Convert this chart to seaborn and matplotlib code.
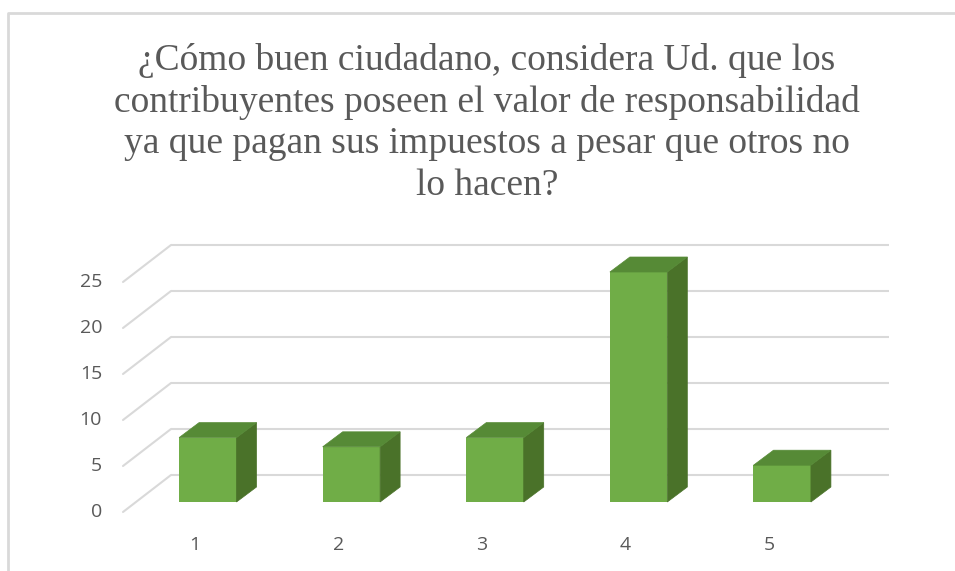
import numpy as np
import pandas as pd
import matplotlib
matplotlib.use("Agg")
import matplotlib.pyplot as plt
import matplotlib.transforms as mtransforms
from matplotlib.patches import Polygon
from matplotlib.lines import Line2D
import seaborn as sns

# data
categories = ["1", "2", "3", "4", "5"]
counts = [7, 6, 7, 25, 4]
y_ticks = [0, 5, 10, 15, 20, 25]
title = ("¿Cómo buen ciudadano, considera Ud. que los\n"
         "contribuyentes poseen el valor de responsabilidad\n"
         "ya que pagan sus impuestos a pesar que otros no\n"
         "lo hacen?")

FRONT = "#70AD47"
TOP = "#568A36"
SIDE = "#4A7229"
GRID = "#D9D9D9"
TEXT = "#595959"

sns.set_theme(style="white")
plt.rcParams['font.family'] = ['Open Sans', 'DejaVu Sans']

W, H, DPI = 955, 571, 100
fig = plt.figure(figsize=(W / DPI, H / DPI), dpi=DPI)

# axes = the plane of the bars' front faces (pixel geometry)
left_px, right_px, base_px, px_per_unit = 136, 854, 502, 9.2
ymax = 28
top_px = base_px - ymax * px_per_unit
ax = fig.add_axes([left_px / W, (H - base_px) / H,
                   (right_px - left_px) / W, (base_px - top_px) / H])

df = pd.DataFrame({"cat": categories, "n": counts})
sns.barplot(data=df, x="cat", y="n", color=FRONT, saturation=1,
            width=0.4, ax=ax, zorder=3, linewidth=0)
ax.set_xlim(-0.5, len(categories) - 0.5)
ax.set_ylim(0, ymax)
ax.axis("off")

# depth offsets (pixels): floor front edge, back wall, bar depth
front = (-13, -10)
back = (35, 27)
bar_depth = (20, 15)

def off(dx, dy):
    return mtransforms.offset_copy(ax.transData, fig=fig, x=dx, y=dy, units="dots")

# back wall gridlines
ax.hlines(y_ticks, -0.5, len(categories) - 0.5, color=GRID, lw=1.5,
          transform=off(*back), zorder=1, clip_on=False)

# left wall diagonals + value labels
for v in y_ticks:
    p0 = ax.transData.transform((-0.5, v))
    xs = [p0[0] + front[0], p0[0] + back[0]]
    ys = [p0[1] + front[1], p0[1] + back[1]]
    fig.add_artist(Line2D(xs, ys, color=GRID, lw=1.5,
                          transform=mtransforms.IdentityTransform(), zorder=1))
    ax.text(-0.5, v, str(v), transform=off(front[0] - 21, front[1]),
            ha="right", va="center", fontsize=14, color=TEXT)

# category labels on the floor front edge
for i, c in enumerate(categories):
    ax.text(i, 0, c, transform=off(front[0], front[1] - 33),
            ha="center", va="center", fontsize=14, color=TEXT)

# 3D extrusion of each bar (side and top faces)
fig.canvas.draw()
dx, dy = bar_depth
for patch in ax.patches[:len(categories)]:
    x0, y0 = patch.get_x(), patch.get_y()
    x1, y1 = x0 + patch.get_width(), y0 + patch.get_height()
    br = ax.transData.transform((x1, y0))
    tl, tr = ax.transData.transform((x0, y1)), ax.transData.transform((x1, y1))
    side = [br, tr, tr + (dx, dy), br + (dx, dy)]
    topf = [tl, tr, tr + (dx, dy), tl + (dx, dy)]
    for pts, col in [(side, SIDE), (topf, TOP)]:
        fig.add_artist(Polygon(pts, closed=True, facecolor=col, edgecolor=col, lw=0.5,
                               transform=mtransforms.IdentityTransform(), zorder=4))

fig.text(487 / W, 1 - 43 / H, title, ha="center", va="top", fontsize=27,
         family=["Liberation Serif", "DejaVu Serif"], color=TEXT, linespacing=1.26)

# chart area border (top and left visible)
fig.add_artist(Line2D([8 / W, 8 / W, 1.02], [-0.02, 1 - 13 / H, 1 - 13 / H],
                      color="#D9D9D9", lw=2, transform=fig.transFigure))

fig.savefig("out.png", dpi=DPI)
